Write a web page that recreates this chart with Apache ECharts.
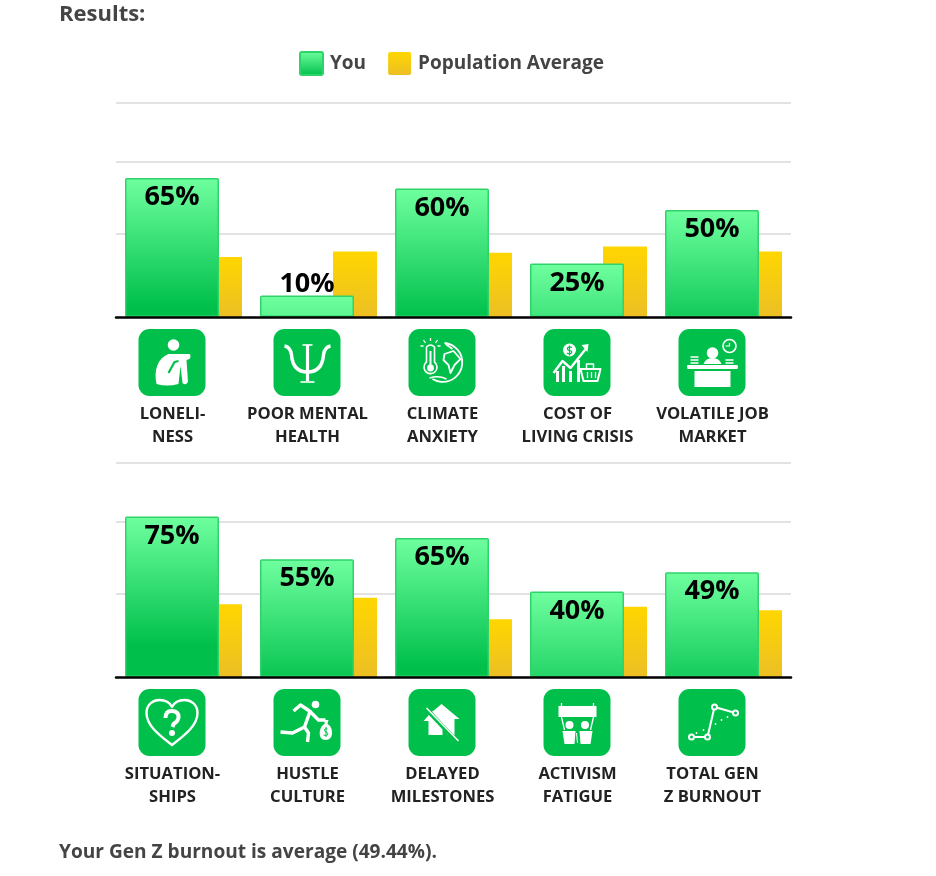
<!DOCTYPE html>
<html>
<head>
<meta charset="utf-8">
<style>
  html, body { margin: 0; padding: 0; background: #fff; }
  #chart { width: 936px; height: 876px; }
</style>
<script src="https://cdn.jsdelivr.net/npm/echarts@6/dist/echarts.min.js"></script>
</head>
<body>
<div id="chart"></div>
<script>
var categoriesTop = ['LONELI-\nNESS', 'POOR MENTAL\nHEALTH', 'CLIMATE\nANXIETY', 'COST OF\nLIVING CRISIS', 'VOLATILE JOB\nMARKET'];
var youTop = [65, 10, 60, 25, 50];
var averageTop = [28, 30.6, 30, 33, 30.6];

var categoriesBottom = ['SITUATION-\nSHIPS', 'HUSTLE\nCULTURE', 'DELAYED\nMILESTONES', 'ACTIVISM\nFATIGUE', 'TOTAL GEN\nZ BURNOUT'];
var youBottom = [75, 55, 65, 40, 49];
var averageBottom = [34, 37, 27, 32.8, 31.2];

var gridValues = [39, 72.5, 100];

var FONT = '"Open Sans", sans-serif';
var GREEN = '#00c04b';
var LIGHT = '#6fff9f';

// the green fade has a fixed length, so short bars never reach the dark end
function greenFill(v) {
  return {
    type: 'linear', x: 0, y: 0, x2: 0, y2: 60 / v,
    colorStops: [{ offset: 0, color: LIGHT }, { offset: 1, color: GREEN }]
  };
}
var yellowFill = {
  type: 'linear', x: 0, y: 0, x2: 0, y2: 1,
  colorStops: [{ offset: 0, color: '#ffd600' }, { offset: 1, color: '#ecbf25' }]
};

// icon glyphs, drawn on a 67x67 tile
function fill(d) { return { d: d, fill: '#fff' }; }
function line(d, w) { return { d: d, stroke: '#fff', w: w || 2 }; }
function cut(d, w) { return { d: d, stroke: GREEN, w: w || 2 }; }
function dot(x, y, r) {
  return 'M' + (x - r) + ' ' + y + 'A' + r + ' ' + r + ' 0 1 1 ' + (x + r) + ' ' + y + 'A' + r + ' ' + r + ' 0 1 1 ' + (x - r) + ' ' + y + 'Z';
}
var glyphsTop = [
  [fill(dot(35, 16, 5.8)),
   fill('M18 55C15 42 19 29 30 25L51 25Q53 27 51 30L48 31L49.5 53Q47 57 44 54L42 37L40 55Q28 58 18 55Z'),
   cut('M30 44L36 33L40 32', 2.2)],
  [line('M11 17Q17 18 18 26C19 38 25 43 34 43C43 43 49 38 50 26Q51 18 57 17', 3.4), line('M34 16L34 52', 3.2), line('M27 53L41 53', 1.6), line('M29 16L39 16', 1.6)],
  [line('M18 18Q22 14 26 18L26 33A6.5 6.5 0 1 1 18 33Z', 1.6), fill(dot(22, 39, 3.4)), line('M22 22L22 38', 2), line('M22 9L22 12M15 11L17 14M29 11L27 14M12 17L15 17M32 17L29 17', 1.3),
   line('M36 14A19.5 19.5 0 1 1 24 50', 1.8), line('M36 25L45 22L52 30L46 36L42 44L40 36L35 31Z', 1.8), line('M37 15L44 20', 1.6), line('M21 49Q30 46 38 50', 1.4)],
  [fill(dot(26, 21, 6.5)), cut('M28.5 18.5Q26 17 24 19Q23.5 21 26 21.5Q29 22 28 24Q26 25.5 23.5 24M26 16.5L26 26.5', 1.2),
   line('M10 44L19 32L27 39L43 19', 2.4), fill('M38 16L45 15L44 23Z'), line('M14 42L14 53M20 37L20 53M27 42L27 53M35 31L35 53', 3),
   line('M37 40L57 40L54 52L40 52Z', 2), line('M43 40L43 35L50 35L50 40', 1.5), line('M44 43L44 49M48 43L48 49M52 43L52 49', 1.3)],
  [fill('M9 36L59 36Q60 37 59 40L9 40Q8 37 9 36Z'), fill('M16 42L52 42L52 58L16 58Z'), fill(dot(34, 24, 5.8)), fill('M25 35Q27 29 34 29Q41 29 43 35Z'),
   line(dot(51, 17, 6.5), 1.6), line('M51 14L51 17L47 17', 1.2), line('M12 28L20 28M12 31L20 31M12 34L20 34', 1.6), line('M47 31L55 31M47 34L55 34', 1.6)]
];
var glyphsBottom = [
  [line('M33.5 56C22 47 8 37 8 24C8 15 15 11 21 11C26 11 31 13 33.5 18C36 13 41 11 46 11C52 11 59 15 59 24C59 37 45 47 33.5 56Z', 2.4),
   line('M27 29Q27 22 33 22Q40 22 40 28Q40 32 35 35L34 38', 4), fill(dot(33.5, 44, 3))],
  [fill(dot(42, 15.5, 3.8)), line('M37 21L31 38M31 38L19 44L7 43M31 38L35 44L34 53M36 22L27 16L20 22M37 23L45 31L52 31', 3.4),
   fill('M51 31L55 31L54 35C60 38 61 51 52 51C44 51 45 38 51 35Z'), cut('M54 40Q51 39 51 41Q51 43 53 43Q55 44 54 46Q52 47 50 46M52.5 38L52.5 48', 1)],
  [fill('M33 15L51 30L46 30L46 46L39 46L39 40L34 40L34 46L20 46L20 32L15 32L23 23L26 21Z'), cut('M15 17L48 52', 4.5), line('M18 19L50 52', 1.5)],
  [fill('M15 17L53 17L53 28L15 28Z'), line('M18 14L18 17M50 14L50 17M18 28L21 41M50 28L47 41', 1.3), fill(dot(26, 36, 4)), fill(dot(41.5, 36, 4)),
   fill('M19 42L32 42L31 55L21 55Z'), fill('M36 42L49 42L47 55L37 55Z'), line('M33 44L34 54', 1)],
  [line('M13 48L29 48L36 18L57 24', 2), fill(dot(13, 48, 3.5)), fill(dot(29, 48, 3.5)), fill(dot(36, 18, 3.5)), fill(dot(57, 24, 3.5)),
   { d: dot(13, 48, 1.5) + dot(29, 48, 1.5) + dot(36, 18, 1.5) + dot(57, 24, 1.5), fill: GREEN },
   fill(dot(18, 44, 0.9) + dot(25, 41, 0.9) + dot(37, 35, 0.9) + dot(43, 31, 0.9) + dot(49, 28, 0.9))]
];

// zero-length segments pin the path bounds to the whole tile
var TILE_BOUNDS = 'M0 0L0 0M67 67L67 67';

function iconSeries(glyphs, categories, axisIndex) {
  return {
    type: 'custom',
    name: 'icons',
    xAxisIndex: axisIndex,
    yAxisIndex: axisIndex,
    silent: true,
    z: 4,
    data: categories.map(function(c, i) { return [i, 0]; }),
    renderItem: function(params, api) {
      var base = api.coord([params.dataIndex, 0]);
      var children = [{
        type: 'rect',
        shape: { x: 0, y: 0, width: 67, height: 67, r: 11 },
        style: { fill: GREEN }
      }];
      glyphs[params.dataIndex].forEach(function(g) {
        children.push({
          type: 'path',
          shape: { pathData: TILE_BOUNDS + g.d, x: 0, y: 0, width: 67, height: 67, layout: 'cover' },
          style: {
            fill: g.fill || 'none',
            stroke: g.stroke || 'none',
            lineWidth: g.w || 0,
            lineJoin: 'round'
          }
        });
      });
      return { type: 'group', x: base[0] - 45, y: base[1] + 12, children: children };
    }
  };
}

function youSeries(values, axisIndex) {
  return {
    type: 'bar',
    name: 'You',
    xAxisIndex: axisIndex,
    yAxisIndex: axisIndex,
    barWidth: 94,
    barGap: '-22.34%',
    z: 3,
    itemStyle: { color: greenFill(60), borderColor: '#2ed36a', borderWidth: 1.5, borderRadius: 1 },
    label: {
      show: true,
      position: 'insideTop',
      distance: 6,
      formatter: '{c}%',
      color: '#000',
      fontFamily: FONT,
      fontWeight: 'bold',
      fontSize: 27
    },
    data: values.map(function(v) {
      var item = { value: v, itemStyle: { color: greenFill(v) } };
      // too short to hold its label
      if (v < 15) item.label = { position: 'top', distance: -2 };
      return item;
    })
  };
}

function averageSeries(values, axisIndex) {
  return {
    type: 'bar',
    name: 'Population Average',
    xAxisIndex: axisIndex,
    yAxisIndex: axisIndex,
    barWidth: 44,
    z: 2,
    itemStyle: { color: yellowFill },
    data: values,
    markLine: {
      silent: true,
      z: 1,
      symbol: 'none',
      animation: false,
      label: { show: false },
      lineStyle: { color: '#d9d9d9', width: 1.5, type: 'solid' },
      data: gridValues.map(function(v) { return { yAxis: v }; })
    }
  };
}

function xAxis(categories, gridIndex) {
  return {
    type: 'category',
    gridIndex: gridIndex,
    z: 5,
    data: categories,
    axisLine: { show: true, lineStyle: { color: '#000', width: 2.5 } },
    axisTick: { show: false },
    axisLabel: {
      interval: 0,
      margin: 85.5,
      padding: [0, 22, 0, 0],
      color: '#222',
      fontFamily: FONT,
      fontWeight: 'bold',
      fontSize: 16.6,
      lineHeight: 23
    }
  };
}

function yAxis(gridIndex) {
  return { type: 'value', gridIndex: gridIndex, min: 0, max: 100, show: false };
}

var chart = echarts.init(document.getElementById('chart'));
chart.setOption({
  animation: false,
  backgroundColor: '#fff',
  title: [
    { text: 'Results:', left: 54, top: -1, textStyle: { color: '#444', fontFamily: FONT, fontWeight: 'bold', fontSize: 22 } },
    { text: 'Your Gen Z burnout is average (49.44%).', left: 54, top: 838, textStyle: { color: '#444', fontFamily: FONT, fontWeight: 'bold', fontSize: 19.1 } }
  ],
  legend: {
    left: 294,
    top: 46,
    data: ['You', 'Population Average'],
    icon: 'path://M2 0H21Q23 0 23 2V21Q23 23 21 23H2Q0 23 0 21V2Q0 0 2 0Z',
    itemWidth: 23,
    itemHeight: 23,
    itemGap: 22,
    textStyle: { color: '#444', fontFamily: FONT, fontWeight: 'bold', fontSize: 19, padding: [0, 0, 0, 2] }
  },
  grid: [
    { left: 116, top: 103, width: 675, height: 214 },
    { left: 116, top: 463, width: 675, height: 214 }
  ],
  xAxis: [xAxis(categoriesTop, 0), xAxis(categoriesBottom, 1)],
  yAxis: [yAxis(0), yAxis(1)],
  series: [
    youSeries(youTop, 0),
    averageSeries(averageTop, 0),
    iconSeries(glyphsTop, categoriesTop, 0),
    youSeries(youBottom, 1),
    averageSeries(averageBottom, 1),
    iconSeries(glyphsBottom, categoriesBottom, 1)
  ]
});
</script>
</body>
</html>
